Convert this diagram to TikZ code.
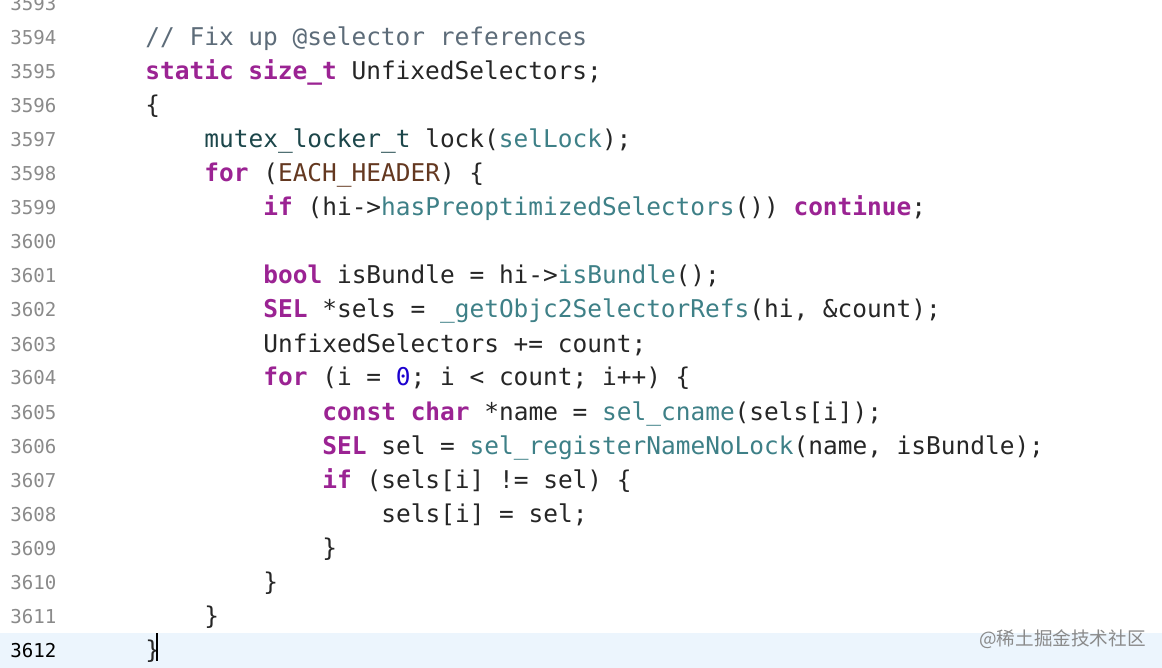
\documentclass[tikz,border=0pt]{standalone}
\usepackage{fontspec}
\setmonofont{DejaVu Sans Mono}
\newfontfamily\cjk{Noto Sans CJK SC}
\definecolor{kw}{HTML}{9B2393}
\definecolor{fn}{HTML}{3E8087}
\definecolor{ty}{HTML}{1C464A}
\definecolor{mac}{HTML}{643820}
\definecolor{num}{HTML}{1C00CF}
\definecolor{cm}{HTML}{5D6C79}
\definecolor{tx}{HTML}{262626}
\definecolor{ln}{HTML}{8A8A8A}
\definecolor{hl}{HTML}{ECF5FD}
\newcommand\kw[1]{{\bfseries\color{kw}#1}}
\newcommand\fn[1]{{\color{fn}#1}}
\newcommand\ty[1]{{\color{ty}#1}}
\newcommand\mac[1]{{\color{mac}#1}}
\newcommand\num[1]{{\color{num}#1}}
\begin{document}
\begin{tikzpicture}[x=0.5pt,y=-0.5pt,
  code/.style={anchor=base west,inner sep=0pt,font=\ttfamily\fontsize{12.23pt}{14pt}\selectfont,text=tx},
  lnum/.style={anchor=base west,inner sep=0pt,font=\ttfamily\fontsize{9.55pt}{11pt}\selectfont,text=ln}]
\fill[white] (0,0) rectangle (1162,668);
\useasboundingbox (0,0) rectangle (1162,668);
\fill[hl] (0,633) rectangle (1162,668);
\foreach \n [count=\i from 0] in {3593,...,3611}
  \node[lnum] (ln\n) at (10,{4+34*\i+7}) {\n};
\node[lnum,text=black] (ln3612) at (10,{4+34*19+7}) {3612};
\def\L#1#2#3{\node[code] (c#1) at ({145+59*#2},{4+34*(#1-3593)+8}) {#3};}
\L{3594}{0}{\color{cm}// Fix up @selector references}
\L{3595}{0}{\kw{static} \kw{size\_t} UnfixedSelectors;}
\L{3596}{0}{\{}
\L{3597}{1}{\ty{mutex\_locker\_t} lock(\fn{selLock});}
\L{3598}{1}{\kw{for} (\mac{EACH\_HEADER}) \{}
\L{3599}{2}{\kw{if} (hi->\fn{hasPreoptimizedSelectors}()) \kw{continue};}
\L{3601}{2}{\kw{bool} isBundle = hi->\fn{isBundle}();}
\L{3602}{2}{\kw{SEL} *sels = \fn{\_getObjc2SelectorRefs}(hi, \&count);}
\L{3603}{2}{UnfixedSelectors += count;}
\L{3604}{2}{\kw{for} (i = \num{0}; i < count; i++) \{}
\L{3605}{3}{\kw{const} \kw{char} *name = \fn{sel\_cname}(sels[i]);}
\L{3606}{3}{\kw{SEL} sel = \fn{sel\_registerNameNoLock}(name, isBundle);}
\L{3607}{3}{\kw{if} (sels[i] != sel) \{}
\L{3608}{4}{sels[i] = sel;}
\L{3609}{3}{\}}
\L{3610}{2}{\}}
\L{3611}{1}{\}}
\L{3612}{0}{\}}
\draw[black,line width=1pt] (157,633) -- (157,661);
\node[anchor=base east,inner sep=0pt,font=\cjk\fontsize{9.3pt}{11pt}\selectfont,text=ln] (wm) at (1146,645) {@稀土掘金技术社区};
\end{tikzpicture}
\end{document}
